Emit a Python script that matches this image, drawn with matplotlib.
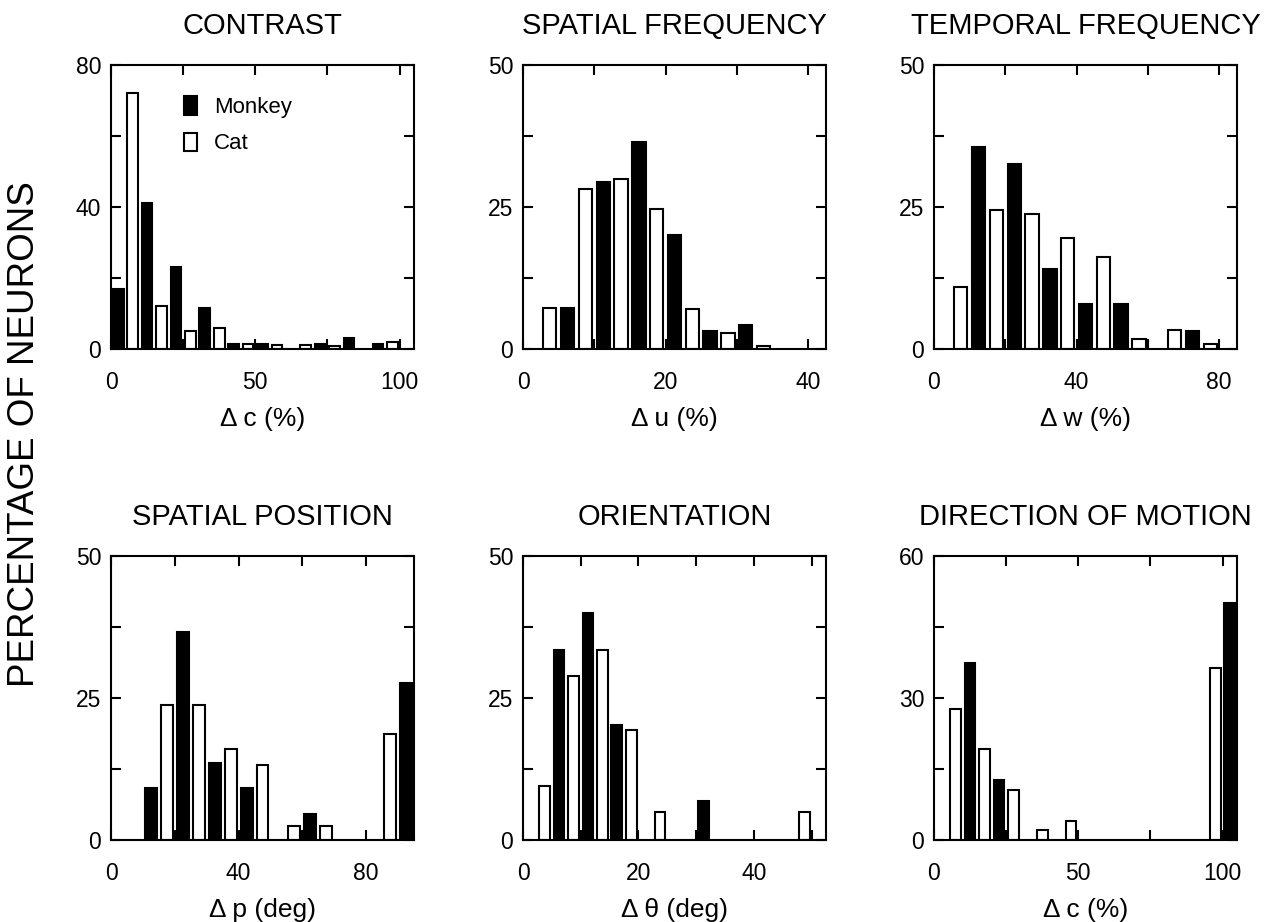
import matplotlib
matplotlib.use("Agg")
import matplotlib.pyplot as plt
from matplotlib.patches import Patch
import numpy as np

plt.rcParams['font.family'] = ['Liberation Sans', 'DejaVu Sans']

# ---- data: percentage of neurons per bin (monkey = left half, cat = right half) ----
# Contrast, bins of 10 %
contrast_bins = [0, 10, 20, 30, 40, 50, 60, 70, 80, 90]
contrast_monkey = [17, 41, 23, 11.5, 1.5, 1.5, 0, 1.5, 3, 1.5]
contrast_cat = [72, 12, 5, 6, 1.5, 1, 1, 0.8, 0, 2]

# Spatial frequency, bins of 5 %
sf_bins = [0, 5, 10, 15, 20, 25, 30]
sf_monkey = [0, 7.3, 29.4, 36.5, 20.1, 3.1, 4.2]
sf_cat = [7.3, 28.2, 30.0, 24.7, 7.0, 2.9, 0.6]

# Temporal frequency, bins of 10 %
tf_bins = [0, 10, 20, 30, 40, 50, 60, 70]
tf_monkey = [0, 35.5, 32.5, 14.0, 7.9, 7.9, 0, 3.2]
tf_cat = [11.0, 24.5, 23.8, 19.6, 16.2, 1.7, 3.4, 0.8]

# Spatial position, bins of 10 deg
pos_bins = [0, 10, 20, 30, 40, 50, 60, 70, 80, 90]
pos_monkey = [0, 9.1, 36.6, 13.6, 9.2, 0, 4.6, 0, 0, 27.6]
pos_cat = [0, 23.8, 23.8, 16.0, 13.2, 2.5, 2.5, 0, 18.6, 0]

# Orientation, bins of 5 deg
ori_bins = [0, 5, 10, 15, 20, 25, 30, 35, 40, 45]
ori_monkey = [0, 33.5, 40.0, 20.3, 0, 0, 6.8, 0, 0, 0]
ori_cat = [9.5, 28.8, 33.5, 19.3, 4.9, 0, 0, 0, 0, 4.9]

# Direction of motion, bins of 10 %
dir_bins = [0, 10, 20, 30, 40, 50, 60, 70, 80, 90, 100]
dir_monkey = [0, 37.4, 12.6, 0, 0, 0, 0, 0, 0, 0, 50.1]
dir_cat = [27.6, 19.2, 10.6, 2.1, 4.1, 0, 0, 0, 0, 36.4, 0]

titles = ["CONTRAST", "SPATIAL FREQUENCY", "TEMPORAL FREQUENCY",
          "SPATIAL POSITION", "ORIENTATION", "DIRECTION OF MOTION"]
xlabels = ["\u0394 c (%)", "\u0394 u (%)", "\u0394 w (%)",
           "\u0394 p (deg)", "\u0394 \u03b8 (deg)", "\u0394 c (%)"]

x_limits = [105, 42.5, 85, 95, 52.5, 105]
x_major = [[0, 50, 100], [0, 20, 40], [0, 40, 80], [0, 40, 80], [0, 20, 40], [0, 50, 100]]
x_minor = [[25, 75], [10, 30], [20, 60], [20, 60], [10, 30, 50], [25, 75]]
y_limits = [80, 50, 50, 50, 50, 60]
y_major = [[0, 40, 80], [0, 25, 50], [0, 25, 50], [0, 25, 50], [0, 25, 50], [0, 30, 60]]
y_minor = [[20, 60], [12.5, 37.5], [12.5, 37.5], [12.5, 37.5], [12.5, 37.5], [15, 45]]

bins_all = [contrast_bins, sf_bins, tf_bins, pos_bins, ori_bins, dir_bins]
monkey_all = [contrast_monkey, sf_monkey, tf_monkey, pos_monkey, ori_monkey, dir_monkey]
cat_all = [contrast_cat, sf_cat, tf_cat, pos_cat, ori_cat, dir_cat]

# ---- layout (pixels on a 1269 x 922 canvas) ----
W, H = 1269, 922
col_left = [111, 523, 934]
row_top = [65, 556]
ax_w, ax_h = 303, 284

fig = plt.figure(figsize=(W / 100, H / 100), dpi=100)
fig.patch.set_facecolor('white')

LW = 1.5
for i in range(6):
    r, c = divmod(i, 3)
    left = col_left[c] / W
    bottom = 1 - (row_top[r] + ax_h) / H
    ax = fig.add_axes([left, bottom, ax_w / W, ax_h / H])

    bins = np.asarray(bins_all[i], float)
    monkey = np.asarray(monkey_all[i], float)
    cat = np.asarray(cat_all[i], float)
    slot = (bins[1] - bins[0]) / 2
    bw = 0.75 * slot
    km = monkey > 0
    kc = cat > 0
    ax.bar(bins[km] + slot / 2, monkey[km], width=bw, color='black',
           edgecolor='black', linewidth=LW, label='Monkey')
    ax.bar(bins[kc] + 1.5 * slot, cat[kc], width=bw, color='white',
           edgecolor='black', linewidth=LW, label='Cat')

    ax.set_xlim(0, x_limits[i])
    ax.set_ylim(0, y_limits[i])
    ax.set_xticks(x_major[i])
    ax.set_xticklabels([str(v) for v in x_major[i]])
    ax.set_xticks(x_minor[i], minor=True)
    ax.set_yticks(y_major[i])
    ax.set_yticklabels([str(v) for v in y_major[i]])
    ax.set_yticks(y_minor[i], minor=True)

    ax.tick_params(which='both', direction='in', top=True, right=True,
                   length=7, width=LW, color='black')
    ax.tick_params(axis='x', which='major', pad=16, labelsize=16.5)
    ax.tick_params(axis='y', which='major', pad=7, labelsize=16.5)
    for s in ax.spines.values():
        s.set_linewidth(LW)

    ax.set_title(titles[i], fontsize=21, pad=22)
    ax.set_xlabel(xlabels[i], fontsize=19, labelpad=9)

    if i == 0:
        handles = [Patch(facecolor='black', edgecolor='black', linewidth=LW, label='Monkey'),
                   Patch(facecolor='white', edgecolor='black', linewidth=LW, label='Cat')]
        ax.legend(handles=handles, loc='upper left', bbox_to_anchor=(0.24, 0.89),
                  frameon=False, fontsize=16, handlelength=0.6, handleheight=0.9,
                  handletextpad=0.75, labelspacing=0.65, borderpad=0, borderaxespad=0)

fig.text(0.019, 0.529, "PERCENTAGE OF NEURONS", rotation=90, ha='center',
         va='center', fontsize=26.5)

fig.savefig('out.png', dpi=100, facecolor='white')
